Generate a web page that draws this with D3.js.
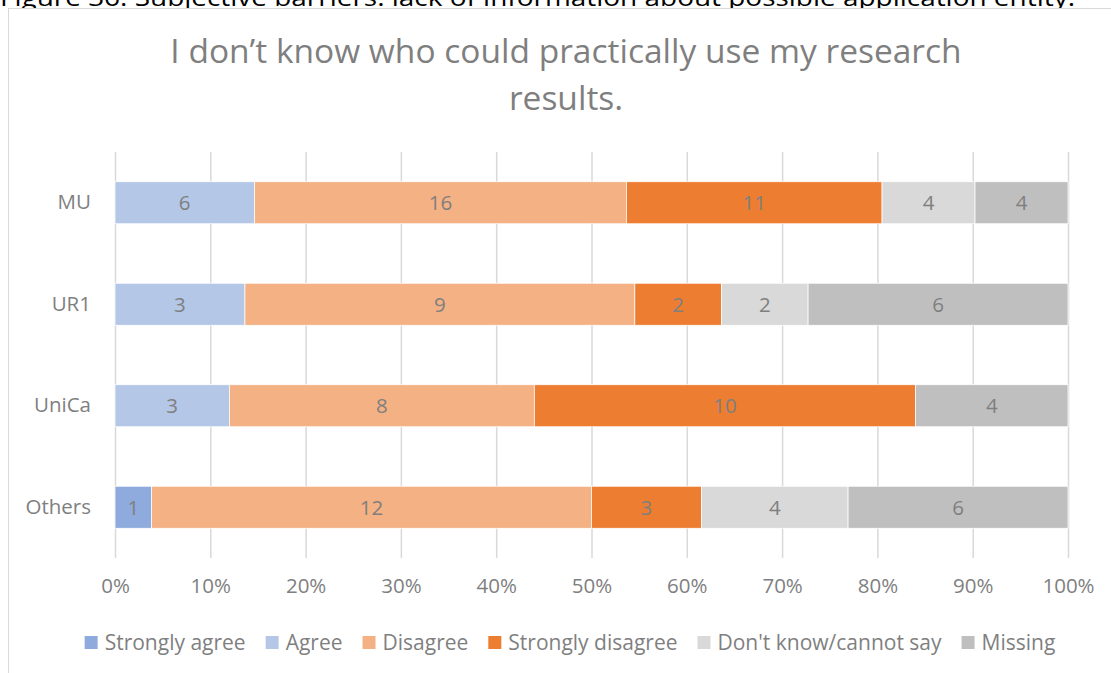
<!DOCTYPE html>
<html>
<head>
<meta charset="utf-8">
<script src="https://cdn.jsdelivr.net/npm/d3@7"></script>
<style>
  html, body { margin: 0; padding: 0; background: #fff; overflow: hidden; }
  svg { display: block; font-family: "Open Sans", Lato, sans-serif; }
</style>
</head>
<body>
<svg id="chart" width="1111" height="673"></svg>
<script>
// Survey responses per institution
const categories = ["MU", "UR1", "UniCa", "Others"];
const seriesNames = ["Strongly agree", "Agree", "Disagree", "Strongly disagree", "Don't know/cannot say", "Missing"];
const stronglyAgree    = [0, 0, 0, 1];
const agree            = [6, 3, 3, 0];
const disagree         = [16, 9, 8, 12];
const stronglyDisagree = [11, 2, 10, 3];
const dontKnow         = [4, 2, 0, 4];
const missing          = [4, 6, 4, 6];
const tickLabels = ["0%", "10%", "20%", "30%", "40%", "50%", "60%", "70%", "80%", "90%", "100%"];
const colors = ["#8FAADC", "#B4C7E7", "#F4B183", "#ED7D31", "#D9D9D9", "#BFBFBF"];

const seriesValues = [stronglyAgree, agree, disagree, stronglyDisagree, dontKnow, missing];

// Rows: counts per series, normalised to shares of the row total
const rows = categories.map((c, i) => {
  const row = { category: c };
  seriesNames.forEach((s, k) => { row[s] = seriesValues[k][i]; });
  return row;
});
const stacked = d3.stack().keys(seriesNames).offset(d3.stackOffsetExpand)(rows);

const svg = d3.select("#chart");
const textGray = "#7F7F7F";
const labelSize = 20.5;
const legendSize = 21;

// Document caption above the chart frame (partly cropped at the top)
svg.append("text")
  .attr("x", 0).attr("y", 6)
  .attr("font-size", 24).attr("fill", "#000")
  .attr("textLength", 1075).attr("lengthAdjust", "spacingAndGlyphs")
  .text("Figure 36: Subjective barriers: lack of information about possible application entity.");

// Chart frame
svg.append("rect")
  .attr("x", 8.5).attr("y", 8.5).attr("width", 1120).attr("height", 700)
  .attr("fill", "#fff").attr("stroke", "#D9D9D9").attr("stroke-width", 1);

// Title
const title = svg.append("text")
  .attr("text-anchor", "middle")
  .attr("font-size", 33.5).attr("fill", "#7F7F7F");
title.append("tspan").attr("x", 566).attr("y", 63).text("I don\u2019t know who could practically use my research");
title.append("tspan").attr("x", 566).attr("y", 110).text("results.");

const margin = { left: 115, right: 1068, top: 152, bottom: 558 };

const x = d3.scaleLinear().domain([0, 1]).range([margin.left, margin.right]);
const y = d3.scaleBand().domain(categories).range([margin.top, margin.bottom]).paddingInner(0.586).paddingOuter(0.293);

// Vertical gridlines
const xAxis = d3.axisBottom(x)
  .tickValues(d3.range(0, 11).map(d => d / 10))
  .tickFormat((d, i) => tickLabels[i])
  .tickSize(-(margin.bottom - margin.top))
  .tickPadding(20);

const gx = svg.append("g")
  .attr("transform", `translate(0,${margin.bottom})`)
  .call(xAxis);
gx.select(".domain").remove();
gx.selectAll(".tick line").attr("stroke", "#D9D9D9").attr("stroke-width", 1.5);
gx.selectAll(".tick text")
  .attr("font-size", labelSize).attr("fill", textGray).attr("font-family", "Open Sans, sans-serif");

// Category labels
const yAxis = d3.axisLeft(y).tickSize(0).tickPadding(24);
const gy = svg.append("g").attr("transform", `translate(${margin.left},0)`).call(yAxis);
gy.select(".domain").remove();
gy.selectAll(".tick text")
  .attr("font-size", labelSize).attr("fill", textGray).attr("font-family", "Open Sans, sans-serif");

// Stacked bars
const layers = svg.append("g").selectAll("g")
  .data(stacked)
  .join("g")
  .attr("fill", (d, i) => colors[i]);

layers.selectAll("rect")
  .data(d => d.map(p => ({ p, key: d.key })))
  .join("rect")
  .attr("x", d => x(d.p[0]))
  .attr("y", d => y(d.p.data.category))
  .attr("width", d => x(d.p[1]) - x(d.p[0]))
  .attr("height", y.bandwidth())
  .attr("stroke", "#fff").attr("stroke-width", 0.75);

// Value labels in segment centres
layers.selectAll("text")
  .data(d => d.map(p => ({ p, key: d.key })).filter(d => d.p.data[d.key] > 0))
  .join("text")
  .attr("x", d => x((d.p[0] + d.p[1]) / 2))
  .attr("y", d => y(d.p.data.category) + y.bandwidth() / 2)
  .attr("dy", "0.36em")
  .attr("text-anchor", "middle")
  .attr("font-size", labelSize).attr("fill", textGray)
  .text(d => d.p.data[d.key]);

// Legend
const legend = svg.append("g").attr("transform", "translate(0,642)");
const items = legend.selectAll("g").data(seriesNames).join("g");
items.append("rect")
  .attr("width", 13).attr("height", 13).attr("y", -6)
  .attr("fill", (d, i) => colors[i]);
items.append("text")
  .attr("x", 20).attr("dy", "0.36em")
  .attr("font-size", legendSize).attr("fill", textGray)
  .text(d => d);

let widths = [];
items.each(function () { widths.push(20 + this.querySelector("text").getComputedTextLength()); });
const gap = 20;
const total = d3.sum(widths) + gap * (widths.length - 1);
let cursor = 570 - total / 2;
items.attr("transform", (d, i) => {
  const t = `translate(${cursor},0)`;
  cursor += widths[i] + gap;
  return t;
});
</script>
</body>
</html>
